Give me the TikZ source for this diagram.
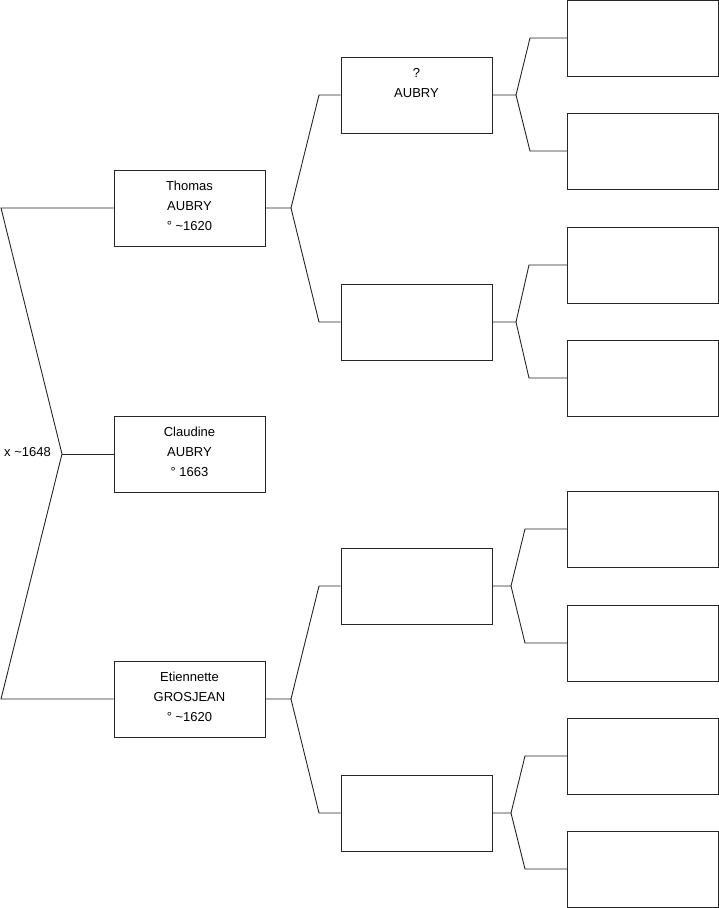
\documentclass[tikz,border=0pt]{standalone}
\usepackage{fontspec}
\setmainfont{Liberation Sans}
\newcommand{\lastpad}{\rule[-4pt]{0pt}{4pt}}
\begin{document}
\begin{tikzpicture}[x=1pt,y=-1pt,
 person/.style={draw=black!85, line width=0.9pt, minimum width=151pt, minimum height=76pt, inner sep=0pt, align=center, font=\fontsize{13}{20}\selectfont, anchor=center},
 link/.style={draw=black!85, line width=0.9pt},
 lbl/.style={font=\fontsize{13}{15}\selectfont, inner sep=0pt}]
\useasboundingbox (0,0) rectangle (719,908);
% generation 1
\node[person] (thomas) at (189.5,208) {Thomas\\AUBRY\\° \textasciitilde1620\lastpad};
\node[person] (claudine) at (189.5,454) {Claudine\\AUBRY\\° 1663\lastpad};
\node[person] (etien) at (189.5,699) {Etiennette\\GROSJEAN\\° \textasciitilde1620\lastpad};
% generation 2
\node[person] (pa) at (416.5,95) {?\\AUBRY\\\mbox{}\lastpad};
\node[person] (pb) at (416.5,322) {};
\node[person] (pc) at (416.5,586) {};
\node[person] (pd) at (416.5,813) {};
% generation 3
\node[person] (g1) at (643,38) {};
\node[person] (g2) at (643,151) {};
\node[person] (g3) at (643,265) {};
\node[person] (g4) at (643,378) {};
\node[person] (g5) at (643,529) {};
\node[person] (g6) at (643,643) {};
\node[person] (g7) at (643,756) {};
\node[person] (g8) at (643,869) {};
% marriage
\coordinate (f) at (1,208);
\coordinate (m) at (62,454);
\coordinate (mo) at (1,699);
\draw[link] (thomas.west) -- (f) -- (m) -- (mo) -- (etien.west);
\draw[link] (m) -- (claudine.west);
\node[lbl, anchor=east] (marr) at (51,452) {x \textasciitilde1648};
% Thomas parents
\coordinate (sT) at (291,208);
\coordinate (tA) at (319,95);
\coordinate (tB) at (319,322);
\draw[link] (thomas.east) -- (sT) -- (tA) -- (pa.west);
\draw[link] (sT) -- (tB) -- (pb.west);
% Etiennette parents
\coordinate (sE) at (291,699);
\coordinate (eA) at (319,586);
\coordinate (eB) at (319,813);
\draw[link] (etien.east) -- (sE) -- (eA) -- (pc.west);
\draw[link] (sE) -- (eB) -- (pd.west);
% generation 3 links
\coordinate (sA) at (516,95);
\coordinate (a1) at (530,38);
\coordinate (a2) at (530,151);
\draw[link] (pa.east) -- (sA) -- (a1) -- (g1.west);
\draw[link] (sA) -- (a2) -- (g2.west);
\coordinate (sB) at (516,322);
\coordinate (b1) at (529,265);
\coordinate (b2) at (529,378);
\draw[link] (pb.east) -- (sB) -- (b1) -- (g3.west);
\draw[link] (sB) -- (b2) -- (g4.west);
\coordinate (sC) at (511,586);
\coordinate (c1) at (525,529);
\coordinate (c2) at (525,643);
\draw[link] (pc.east) -- (sC) -- (c1) -- (g5.west);
\draw[link] (sC) -- (c2) -- (g6.west);
\coordinate (sD) at (511,813);
\coordinate (d1) at (525,756);
\coordinate (d2) at (525,869);
\draw[link] (pd.east) -- (sD) -- (d1) -- (g7.west);
\draw[link] (sD) -- (d2) -- (g8.west);
\end{tikzpicture}
\end{document}
